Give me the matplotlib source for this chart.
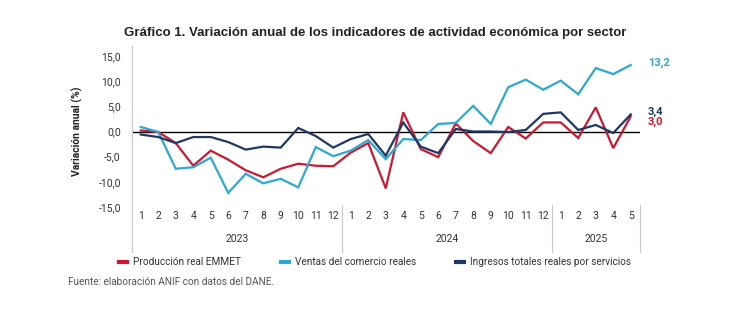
import matplotlib
matplotlib.use("Agg")
import matplotlib.pyplot as plt
from matplotlib.lines import Line2D
import numpy as np

plt.rcParams['font.family'] = ['Roboto', 'DejaVu Sans']

# ---- data ----
years = ['2023', '2024', '2025']
months_per_year = [12, 12, 5]
month_labels = [str(m) for n in months_per_year for m in range(1, n + 1)]

emmet = [0.2, -0.1, -2.3, -6.8, -3.8, -5.6, -7.7, -9.1, -7.4, -6.4, -6.8, -6.9,
         -4.2, -2.3, -11.3, 3.8, -3.5, -5.1, 1.6, -1.9, -4.3, 0.9, -1.4, 1.8,
         1.8, -1.3, 4.8, -3.3, 3.0]
ventas = [0.9, -0.1, -7.4, -7.1, -5.2, -12.2, -8.4, -10.3, -9.4, -11.1, -3.1, -4.9,
          -3.8, -1.7, -5.5, -1.5, -1.7, 1.5, 1.7, 5.1, 1.5, 8.8, 10.3, 8.3,
          10.1, 7.4, 12.6, 11.4, 13.2]
servicios = [-0.6, -1.1, -2.3, -1.1, -1.1, -2.1, -3.6, -3.0, -3.2, 0.7, -0.9, -3.2,
             -1.5, -0.5, -4.8, 1.8, -3.0, -4.3, 0.5, 0.0, 0.0, -0.1, 0.3, 3.5,
             3.8, 0.3, 1.3, -0.3, 3.4]
series_names = ['Producción real EMMET', 'Ventas del comercio reales',
                'Ingresos totales reales por servicios']
colors = ['#CF1730', '#2CA8D2', '#1F3864']

W, H = 734, 323
fig = plt.figure(figsize=(W / 100, H / 100), dpi=100)
ax = fig.add_axes([132 / W, 1 - 207 / H, (639.5 - 132) / W, 151 / H])

x = np.arange(len(month_labels))
for vals, c, name in zip([emmet, ventas, servicios], colors, series_names):
    ax.plot(x, vals, color=c, lw=1.6, solid_joinstyle='miter', label=name)

ax.set_xlim(-0.5, len(month_labels) - 0.5)
ax.set_ylim(-15, 15)
ax.axhline(0, color='black', lw=1.0, zorder=1)

for s in ax.spines.values():
    s.set_visible(False)

yt = list(range(-15, 16, 5))
ax.set_yticks(yt)
ax.set_yticklabels([f"{v:.1f}".replace('.', ',') for v in yt])
ax.set_xticks(x)
ax.set_xticklabels(month_labels)
ax.tick_params(axis='y', length=0, pad=8, labelsize=7.5, labelcolor='#333333')
ax.tick_params(axis='x', length=0, pad=3, labelsize=7.5, labelcolor='#333333')

trans = ax.get_xaxis_transform()
# left axis line (extended through category area)
ax.add_line(Line2D([-0.5, -0.5], [(207 - 46) / 151, (207 - 252) / 151], transform=trans,
                   color='#C8C8C8', lw=0.8, clip_on=False))
# year separators
start = 0
for n in months_per_year:
    end = start + n
    ax.add_line(Line2D([end - 0.5, end - 0.5], [(207 - 205) / 151, (207 - 252) / 151],
                       transform=trans, color='#C8C8C8', lw=0.8, clip_on=False))
    start = end
# year labels
start = 0
for yr, n in zip(years, months_per_year):
    ax.text(start + (n - 1) / 2, (207 - 239) / 151, yr, transform=trans,
            ha='center', va='center', fontsize=7.5, color='#333333')
    start += n

# end labels
last = len(month_labels) - 1
for vals, c, dy in zip([emmet, ventas, servicios], colors, [-5, 2, 3]):
    ax.annotate(f"{vals[-1]:.1f}".replace('.', ','), xy=(last, vals[-1]),
                xytext=(17, dy), textcoords='offset pixels', ha='left', va='center',
                fontsize=8, fontweight='bold', color=c, annotation_clip=False)

fig.text(375 / W, 1 - 33 / H,
         'Gráfico 1. Variación anual de los indicadores de actividad económica por sector',
         ha='center', va='center', fontsize=9.5, fontweight='bold', color='#222222',
         family=['Liberation Sans', 'DejaVu Sans'])
fig.text(77 / W, 1 - 131 / H, 'Variación anual (%)', rotation=90, ha='center', va='center',
         fontsize=7.5, fontweight='bold', color='#222222')

fig.legend(handles=[Line2D([0], [0], color=c, lw=3) for c in colors], labels=series_names,
           loc='center', bbox_to_anchor=(375 / W, 1 - 262 / H), ncol=3, frameon=False,
           handlelength=0.8, handletextpad=0.6, columnspacing=4.0, fontsize=7.2,
           labelcolor='#333333')

fig.text(68 / W, 1 - 282 / H, 'Fuente: elaboración ANIF con datos del DANE.',
         ha='left', va='center', fontsize=7.2, color='#555555')

fig.savefig('out.png', dpi=100)
